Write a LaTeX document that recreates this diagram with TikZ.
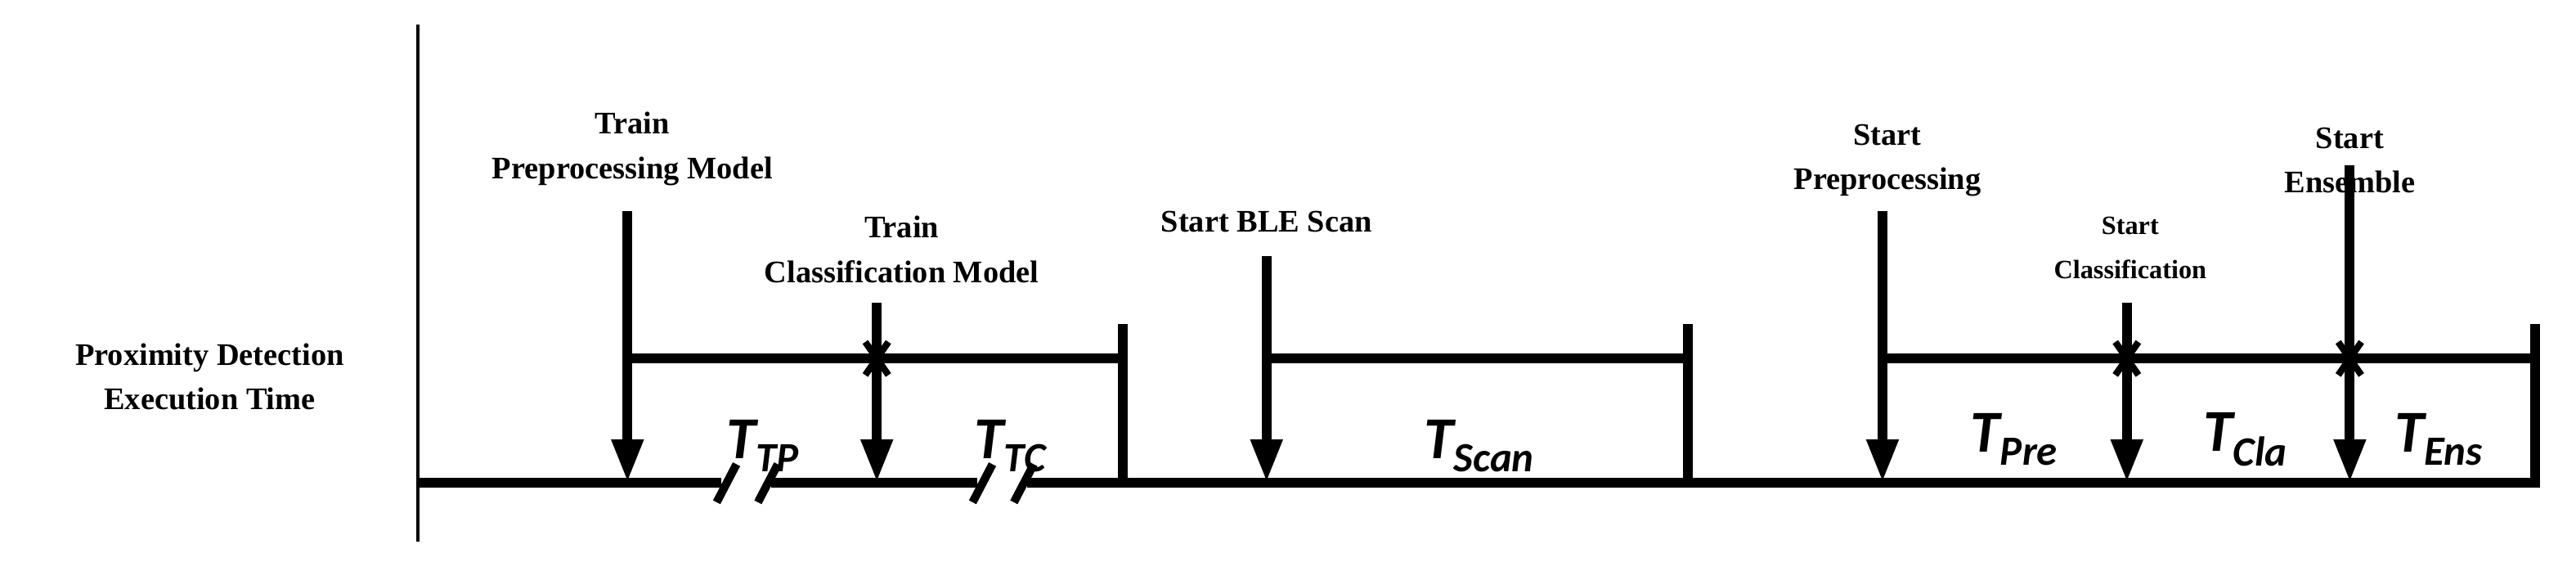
\documentclass[tikz,border=0pt]{standalone}
\usepackage{fontspec}
\setmainfont{Liberation Serif}
\newfontfamily\tfont{Carlito}
\usetikzlibrary{arrows.meta}
\begin{document}
\begin{tikzpicture}[x=1pt,y=-1pt,
  thick line/.style={line width=6pt},
  arr/.style={line width=6pt,-{Triangle[length=26pt 0,width=18pt 0]}},
  lbl/.style={font=\fontsize{19}{27}\selectfont\bfseries,align=center,inner sep=0pt},
  slbl/.style={font=\fontsize{16}{27}\selectfont\bfseries,align=center,inner sep=0pt},
  tlbl/.style={font=\tfont\bfseries\itshape\fontsize{36}{36}\selectfont,inner sep=0pt},
  brk/.style={line width=5pt},
  xm/.style={line width=4pt}]
\useasboundingbox (0,0) rectangle (1560,343);
% axes
\draw[line width=2pt] (253,15) -- (253,328);
\draw[thick line] (253,292) -- (437,292) (467,292) -- (592,292) (622,292) -- (1537,292);
\foreach \x in {440,465,595,620}{\draw[brk] (\x-6,304) -- (\x+6,281);}
\node[lbl] (ylab) at (127,228) {Proximity Detection\\Execution Time};
% group 1
\coordinate (a1) at (380,128); \coordinate (b1) at (380,292);
\coordinate (a2) at (531,183); \coordinate (b2) at (531,292);
\draw[arr] (a1) -- (b1);
\draw[arr] (a2) -- (b2);
\draw[thick line] (380,217) -- (680,217);
\draw[thick line] (680,196) -- (680,295);
\node[lbl] (l1) at (383,90) {Train\\Preprocessing Model};
\node[lbl] (l2) at (546,151) {Train\\Classification Model};
\node[tlbl] (t1) at (462,270) {T\textsubscript{TP}};
\node[tlbl] (t2) at (612,270) {T\textsubscript{TC}};
% group 2
\coordinate (a3) at (767,155); \coordinate (b3) at (767,292);
\draw[arr] (a3) -- (b3);
\draw[thick line] (767,217) -- (1022,217);
\draw[thick line] (1022,196) -- (1022,295);
\node[lbl] (l3) at (767,134) {Start BLE Scan};
\node[tlbl] (t3) at (896,270) {T\textsubscript{Scan}};
% group 3
\coordinate (a4) at (1140,128); \coordinate (b4) at (1140,292);
\coordinate (a5) at (1288,183); \coordinate (b5) at (1288,292);
\coordinate (a6) at (1423,100); \coordinate (b6) at (1423,292);
\draw[arr] (a4) -- (b4);
\draw[arr] (a5) -- (b5);
\draw[arr] (a6) -- (b6);
\draw[thick line] (1140,217) -- (1535,217);
\draw[thick line] (1535,196) -- (1535,295);
\node[lbl] (l4) at (1143,97) {Start\\Preprocessing};
\node[slbl] (l5) at (1290,150) {Start\\Classification};
\node[lbl] (l6) at (1423,97) {Start\\Ensemble};
\node[tlbl] (t4) at (1220,266) {T\textsubscript{Pre}};
\node[tlbl] (t5) at (1360,266) {T\textsubscript{Cla}};
\node[tlbl] (t6) at (1477,266) {T\textsubscript{Ens}};
% X marks
\foreach \x in {531,1288,1423}{\draw[xm] (\x-7,207) -- (\x+7,227) (\x-7,227) -- (\x+7,207);}
\end{tikzpicture}
\end{document}
